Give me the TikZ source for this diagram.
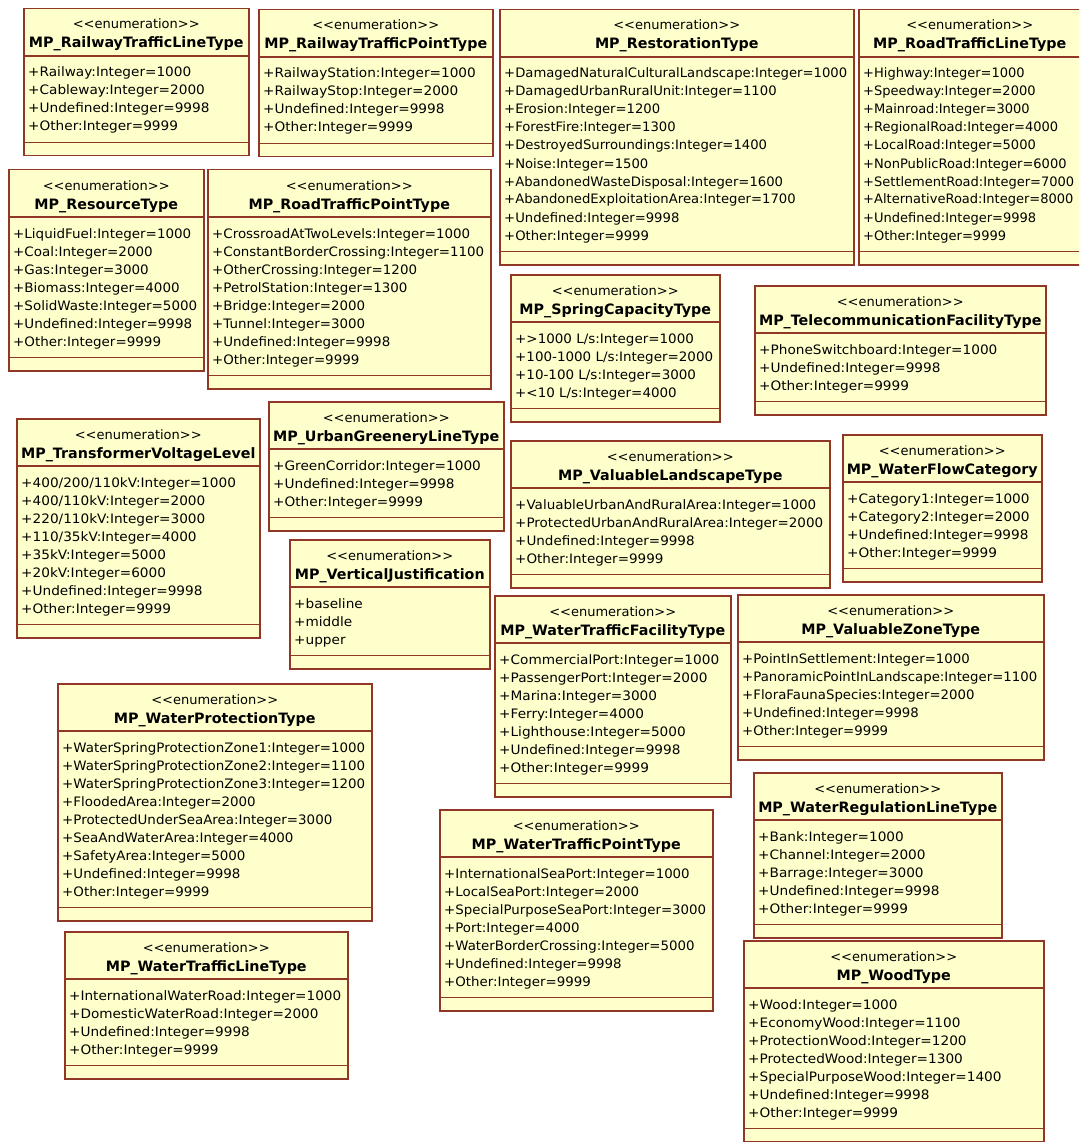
\documentclass[tikz,border=0pt]{standalone}
\usepackage{fontspec}
\usepackage{graphicx}
\newfontfamily\umlfont{DejaVu Sans}
\usetikzlibrary{calc}

\definecolor{boxfill}{RGB}{255,255,204}
\definecolor{boxedge}{RGB}{145,55,40}

\newcommand\litfont{\umlfont\fontsize{13}{15}\selectfont}
\newcommand\headfont{\umlfont\bfseries\fontsize{14.3}{16}\selectfont}
\newcommand\stereofont{\umlfont\fontsize{13}{15}\selectfont}

\tikzset{
  enumframe/.style={draw=boxedge, fill=boxfill, line width=1.5pt, rectangle,
    anchor=north west, inner sep=0pt},
  sepline/.style={draw=boxedge, line width=1.3pt},
  stereo/.style={font=\stereofont, inner sep=0pt, anchor=base},
  enumtitle/.style={font=\headfont, inner sep=0pt, anchor=base},
  literal/.style={font=\litfont, inner sep=0pt, anchor=base west},
}

\newsavebox\measbox
% width of a text set in a given font, measured outside the picture's state
\newcommand\measure[2]{%
  \pgfinterruptpicture
    \global\sbox\measbox{#1#2}%
  \endpgfinterruptpicture
  \xdef\measured{\the\wd\measbox}%
}

% enumeration class box: name, left, top, width, number of literals, title, literals
\newcommand\enumbox[7]{%
  \gdef\maxlitw{1}%
  \foreach \lit in {#7} {%
    \measure{\litfont}{\lit}%
    \pgfmathsetmacro\tmpw{max(\maxlitw,\measured)}%
    \xdef\maxlitw{\tmpw}%
  }%
  \pgfmathsetmacro\litscale{min((#4-11)/\maxlitw,1.05)}%
  \measure{\headfont}{#6}%
  \pgfmathsetmacro\headscale{min((#4-8)/max(\measured,1),1)}%
  \pgfmathsetmacro\boxh{48+#5*18+13+14}%
  \node[enumframe, minimum width=#4, minimum height=\boxh] (#1) at (#2,#3) {};
  \path[sepline] ($(#1.north west)+(0,48)$) -- ($(#1.north east)+(0,48)$);
  \path[sepline] ($(#1.south west)+(0,-14)$) -- ($(#1.south east)+(0,-14)$);
  \node[stereo] (#1-st) at ($(#1.north)+(0,21)$) {<<enumeration>>};
  \node[enumtitle] (#1-ti) at ($(#1.north)+(0,40)$) {\scalebox{\headscale}[1]{#6}};
  \foreach \lit [count=\k] in {#7} {
    \node[literal] (#1-\k) at ($(#1.north west)+(5,{69+(\k-1)*18})$) {\scalebox{\litscale}[1]{\lit}};
  }%
}

\begin{document}
\begin{tikzpicture}[x=1pt, y=-1pt]
\useasboundingbox (0,0) rectangle (1079,1142);
\fill[white] (0,0) rectangle (1079,1142);
\clip (0,0) rectangle (1079,1142);

\enumbox{rtl}{23}{8}{225}{4}{MP\_RailwayTrafficLineType}{%
  +Railway:Integer=1000, +Cableway:Integer=2000, +Undefined:Integer=9998, +Other:Integer=9999}
\enumbox{rtp}{258}{9}{234}{4}{MP\_RailwayTrafficPointType}{%
  +RailwayStation:Integer=1000, +RailwayStop:Integer=2000, +Undefined:Integer=9998, +Other:Integer=9999}
\enumbox{rest}{499}{9}{354}{10}{MP\_RestorationType}{%
  +DamagedNaturalCulturalLandscape:Integer=1000, +DamagedUrbanRuralUnit:Integer=1100,
  +Erosion:Integer=1200, +ForestFire:Integer=1300, +DestroyedSurroundings:Integer=1400,
  +Noise:Integer=1500, +AbandonedWasteDisposal:Integer=1600,
  +AbandonedExploitationArea:Integer=1700, +Undefined:Integer=9998, +Other:Integer=9999}
\enumbox{roadl}{858}{9}{222}{10}{MP\_RoadTrafficLineType}{%
  +Highway:Integer=1000, +Speedway:Integer=2000, +Mainroad:Integer=3000,
  +RegionalRoad:Integer=4000, +LocalRoad:Integer=5000, +NonPublicRoad:Integer=6000,
  +SettlementRoad:Integer=7000, +AlternativeRoad:Integer=8000,
  +Undefined:Integer=9998, +Other:Integer=9999}
\enumbox{res}{8}{169}{195}{7}{MP\_ResourceType}{%
  +LiquidFuel:Integer=1000, +Coal:Integer=2000, +Gas:Integer=3000, +Biomass:Integer=4000,
  +SolidWaste:Integer=5000, +Undefined:Integer=9998, +Other:Integer=9999}
\enumbox{roadp}{207}{169}{283}{8}{MP\_RoadTrafficPointType}{%
  +CrossroadAtTwoLevels:Integer=1000, +ConstantBorderCrossing:Integer=1100,
  +OtherCrossing:Integer=1200, +PetrolStation:Integer=1300, +Bridge:Integer=2000,
  +Tunnel:Integer=3000, +Undefined:Integer=9998, +Other:Integer=9999}
\enumbox{spring}{510}{274}{209}{4}{MP\_SpringCapacityType}{%
  +>1000 L/s:Integer=1000, +100-1000 L/s:Integer=2000, +10-100 L/s:Integer=3000,
  +<10 L/s:Integer=4000}
\enumbox{tele}{754}{285}{291}{3}{MP\_TelecommunicationFacilityType}{%
  +PhoneSwitchboard:Integer=1000, +Undefined:Integer=9998, +Other:Integer=9999}
\enumbox{trans}{16}{418}{243}{8}{MP\_TransformerVoltageLevel}{%
  +400/200/110kV:Integer=1000, +400/110kV:Integer=2000, +220/110kV:Integer=3000,
  +110/35kV:Integer=4000, +35kV:Integer=5000, +20kV:Integer=6000,
  +Undefined:Integer=9998, +Other:Integer=9999}
\enumbox{urban}{268}{401}{235}{3}{MP\_UrbanGreeneryLineType}{%
  +GreenCorridor:Integer=1000, +Undefined:Integer=9998, +Other:Integer=9999}
\enumbox{vj}{289}{539}{200}{3}{MP\_VerticalJustification}{%
  +baseline, +middle, +upper}
\enumbox{vland}{510}{440}{319}{4}{MP\_ValuableLandscapeType}{%
  +ValuableUrbanAndRuralArea:Integer=1000, +ProtectedUrbanAndRuralArea:Integer=2000,
  +Undefined:Integer=9998, +Other:Integer=9999}
\enumbox{wflow}{842}{434}{199}{4}{MP\_WaterFlowCategory}{%
  +Category1:Integer=1000, +Category2:Integer=2000, +Undefined:Integer=9998, +Other:Integer=9999}
\enumbox{wtf}{494}{595}{236}{7}{MP\_WaterTrafficFacilityType}{%
  +CommercialPort:Integer=1000, +PassengerPort:Integer=2000, +Marina:Integer=3000,
  +Ferry:Integer=4000, +Lighthouse:Integer=5000, +Undefined:Integer=9998, +Other:Integer=9999}
\enumbox{vzone}{737}{594}{306}{5}{MP\_ValuableZoneType}{%
  +PointInSettlement:Integer=1000, +PanoramicPointInLandscape:Integer=1100,
  +FloraFaunaSpecies:Integer=2000, +Undefined:Integer=9998, +Other:Integer=9999}
\enumbox{wprot}{57}{683}{314}{9}{MP\_WaterProtectionType}{%
  +WaterSpringProtectionZone1:Integer=1000, +WaterSpringProtectionZone2:Integer=1100,
  +WaterSpringProtectionZone3:Integer=1200, +FloodedArea:Integer=2000,
  +ProtectedUnderSeaArea:Integer=3000, +SeaAndWaterArea:Integer=4000,
  +SafetyArea:Integer=5000, +Undefined:Integer=9998, +Other:Integer=9999}
\enumbox{wreg}{753}{772}{248}{5}{MP\_WaterRegulationLineType}{%
  +Bank:Integer=1000, +Channel:Integer=2000, +Barrage:Integer=3000,
  +Undefined:Integer=9998, +Other:Integer=9999}
\enumbox{wtp}{439}{809}{273}{7}{MP\_WaterTrafficPointType}{%
  +InternationalSeaPort:Integer=1000, +LocalSeaPort:Integer=2000,
  +SpecialPurposeSeaPort:Integer=3000, +Port:Integer=4000,
  +WaterBorderCrossing:Integer=5000, +Undefined:Integer=9998, +Other:Integer=9999}
\enumbox{wtl}{64}{931}{283}{4}{MP\_WaterTrafficLineType}{%
  +InternationalWaterRoad:Integer=1000, +DomesticWaterRoad:Integer=2000,
  +Undefined:Integer=9998, +Other:Integer=9999}
\enumbox{wood}{743}{940}{300}{7}{MP\_WoodType}{%
  +Wood:Integer=1000, +EconomyWood:Integer=1100, +ProtectionWood:Integer=1200,
  +ProtectedWood:Integer=1300, +SpecialPurposeWood:Integer=1400,
  +Undefined:Integer=9998, +Other:Integer=9999}
\end{tikzpicture}
\end{document}
